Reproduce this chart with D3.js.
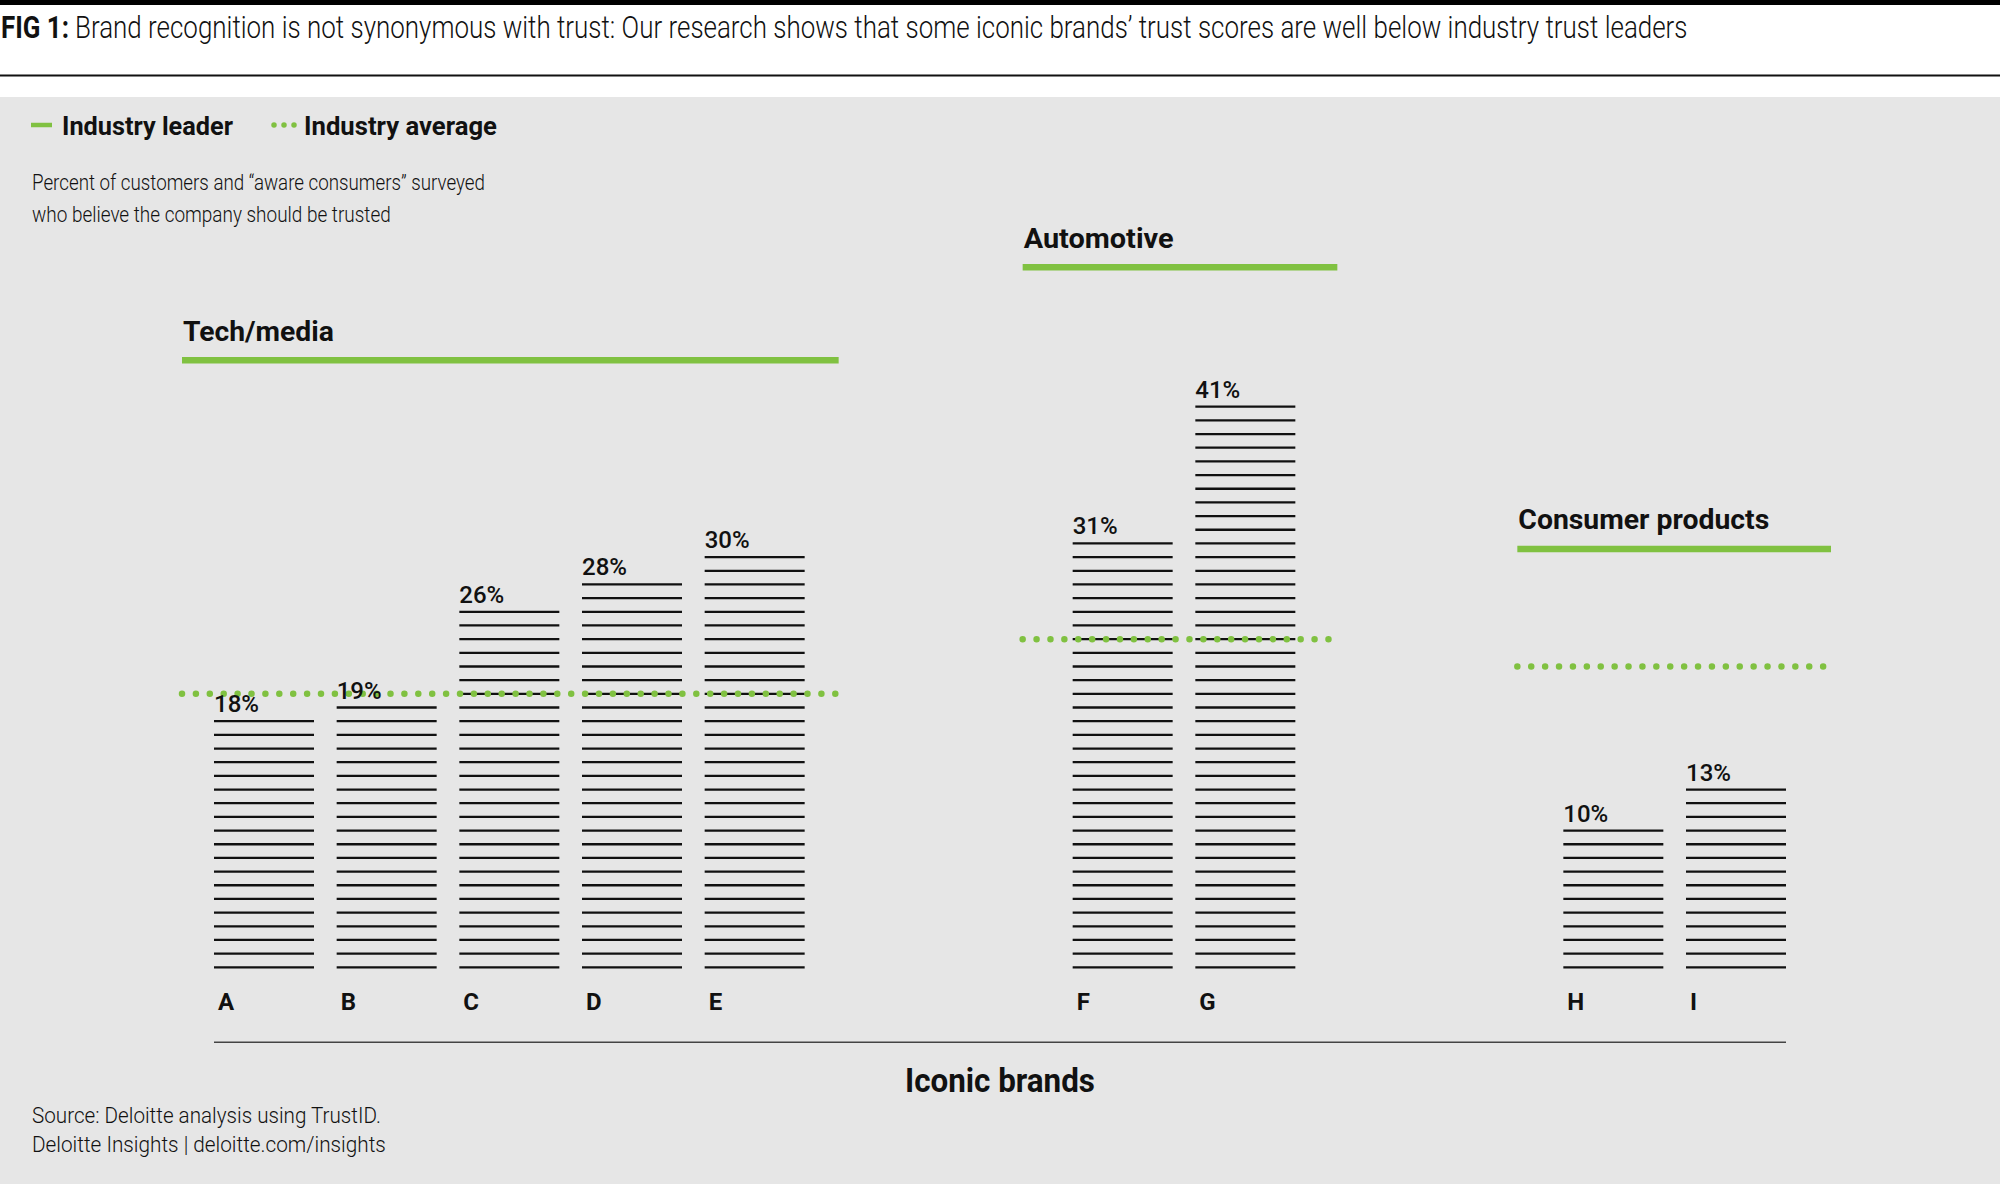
<!DOCTYPE html>
<html>
<head>
<meta charset="utf-8">
<script src="https://cdn.jsdelivr.net/npm/d3@7"></script>
<style>
  html, body { margin: 0; padding: 0; background: #ffffff; }
  svg { display: block; }
  text { font-family: Roboto, "Noto Sans", "DejaVu Sans", sans-serif; fill: #111; }
</style>
</head>
<body>
<svg id="chart" width="2000" height="1184"></svg>
<script>
// ---------- data ----------
const brands   = ["A", "B", "C", "D", "E", "F", "G", "H", "I"];
const values   = [18, 19, 26, 28, 30, 31, 41, 10, 13];
const slots    = [0, 1, 2, 3, 4, 7, 8, 11, 12];      // position on the category axis (gaps between industries)
const groupOf  = [0, 0, 0, 0, 0, 1, 1, 2, 2];
const groups   = ["Tech/media", "Automotive", "Consumer products"];
const leaders  = [44.4, 51.2, 30.6];                 // industry leader (%)
const averages = [20, 24, 22];                       // industry average (%)

const titleBold = "FIG 1:";
const titleRest = "Brand recognition is not synonymous with trust: Our research shows that some iconic brands\u2019 trust scores are well below industry trust leaders";
const legendLabels = ["Industry leader", "Industry average"];
const subtitleLines = ["Percent of customers and \u201caware consumers\u201d surveyed", "who believe the company should be trusted"];
const axisTitle = "Iconic brands";
const sourceLines = ["Source: Deloitte analysis using TrustID.", "Deloitte Insights | deloitte.com/insights"];

// ---------- layout ----------
const W = 2000, H = 1184;
const GREEN = "#80c141", BG = "#e6e6e6";
const barW = 100;
const groupPadL = [32, 50, 46], groupPadR = [34, 42, 45], dotPadR = [34, 38, 38];

const svg = d3.select("#chart");

// text drawn condensed: horizontally scaled so its width matches the target width
function fitText(parent, str, x, y, size, weight, targetW, anchor) {
  const g = parent.append("g");
  const t = g.append("text").attr("font-size", size).attr("font-weight", weight).text(str);
  const natural = t.node().getComputedTextLength();
  const sx = targetW / natural;
  const x0 = anchor === "middle" ? x - targetW / 2 : x;
  g.attr("transform", `translate(${x0},${y}) scale(${sx},1)`);
  return t;
}

// backgrounds
svg.append("rect").attr("x", 0).attr("y", 0).attr("width", W).attr("height", H).attr("fill", "#fff");
svg.append("rect").attr("x", 0).attr("y", 97).attr("width", W).attr("height", H - 97).attr("fill", BG);
svg.append("rect").attr("x", 0).attr("y", 0).attr("width", W).attr("height", 5).attr("fill", "#000");
svg.append("rect").attr("x", 0).attr("y", 74.5).attr("width", W).attr("height", 2).attr("fill", "#111");

// title
fitText(svg, titleBold, 1, 38, 32, 700, 68);
fitText(svg, titleRest, 75, 38, 32, 300, 1613);

// legend
svg.append("line").attr("x1", 31).attr("x2", 52).attr("y1", 125).attr("y2", 125)
  .attr("stroke", GREEN).attr("stroke-width", 4.5);
fitText(svg, legendLabels[0], 62, 135, 25, 700, 171);
svg.append("line").attr("x1", 274).attr("x2", 295).attr("y1", 125).attr("y2", 125)
  .attr("stroke", GREEN).attr("stroke-width", 5.5).attr("stroke-linecap", "round")
  .attr("stroke-dasharray", "0 10");
fitText(svg, legendLabels[1], 304, 135, 25, 700, 193);

// subtitle
const subW = [453, 359];
subtitleLines.forEach((s, i) => fitText(svg, s, 32, 190 + i * 32, 22, 300, subW[i]));

// ---------- scales ----------
const x = d3.scaleLinear().domain([0, 12]).range([214, 1686]);
const y = d3.scaleLinear().domain([0, 41]).range([967.3, 406.7]);

// bars made of horizontal rules, one per percentage point
const bars = svg.append("g");
brands.forEach((b, i) => {
  const ticks = d3.range(0, values[i] + 1);
  bars.append("g").selectAll("line").data(ticks).join("line")
    .attr("x1", x(slots[i])).attr("x2", x(slots[i]) + barW)
    .attr("y1", d => y(d)).attr("y2", d => y(d))
    .attr("stroke", "#111").attr("stroke-width", 2.3);
});

// industry groups: leader lines, labels, average dotted lines
const groupLabelW = [151, 150, 251];
groups.forEach((g, gi) => {
  const idx = brands.map((_, i) => i).filter(i => groupOf[i] === gi);
  const x0 = x(slots[idx[0]]), x1 = x(slots[idx[idx.length - 1]]) + barW;
  const ly = y(leaders[gi]);
  svg.append("line").attr("x1", x0 - groupPadL[gi]).attr("x2", x1 + groupPadR[gi])
    .attr("y1", ly).attr("y2", ly).attr("stroke", GREEN).attr("stroke-width", 6.5);
  fitText(svg, g, x0 - groupPadL[gi] + 1, ly - 19.5, 28, 700, groupLabelW[gi]);
  const ay = y(averages[gi]);
  svg.append("line").attr("x1", x0 - groupPadL[gi]).attr("x2", x1 + dotPadR[gi])
    .attr("y1", ay).attr("y2", ay).attr("stroke", GREEN).attr("stroke-width", 6.5)
    .attr("stroke-linecap", "round").attr("stroke-dasharray", "0 13.9");
});

// value labels
svg.append("g").selectAll("text").data(brands).join("text")
  .attr("x", (d, i) => x(slots[i]))
  .attr("y", (d, i) => y(values[i]) - 9)
  .attr("font-size", 24).attr("font-weight", 500)
  .text((d, i) => values[i] + "%");

// category labels
svg.append("g").selectAll("text").data(brands).join("text")
  .attr("x", (d, i) => x(slots[i]) + 4)
  .attr("y", 1010)
  .attr("font-size", 24).attr("font-weight", 700)
  .text(d => d);

// axis rule
svg.append("line").attr("x1", x(0)).attr("x2", x(12) + barW).attr("y1", 1042.3).attr("y2", 1042.3)
  .attr("stroke", "#444").attr("stroke-width", 1.6);

fitText(svg, axisTitle, (x(0) + x(12) + barW) / 2, 1092, 33, 700, 190, "middle");

// source
const srcW = [349, 354];
sourceLines.forEach((s, i) => fitText(svg, s, 32, 1123.3 + i * 29, 22, 300, srcW[i]));
</script>
</body>
</html>
